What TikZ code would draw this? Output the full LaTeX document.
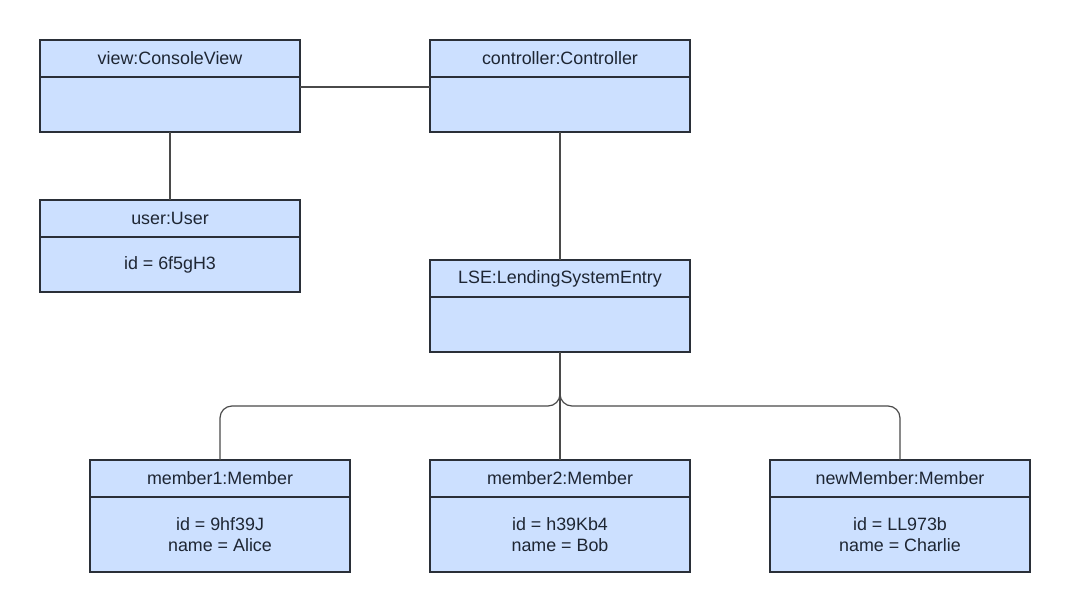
\documentclass[tikz,border=0pt]{standalone}
\usepackage{fontspec}
\setmainfont{Liberation Sans}
\usetikzlibrary{positioning, calc}
\definecolor{objfill}{HTML}{CCE0FF}
\definecolor{objline}{HTML}{2A2F38}
\definecolor{connline}{HTML}{4A4A4A}
\definecolor{objtext}{HTML}{1E2633}
\tikzset{
  every picture/.style={font=\fontsize{13.4}{15.75}\selectfont, x=0.75pt, y=-0.75pt},
  head/.style={draw=objline, fill=objfill, line width=1.5pt, text=objtext, minimum width=195pt, minimum height=27.75pt, inner sep=0pt, outer sep=0pt, anchor=north west},
  body/.style={draw=objline, fill=objfill, line width=1.5pt, text=objtext, align=center, minimum width=195pt, minimum height=#1, inner sep=0pt, outer sep=0pt},
  body/.default=41.25pt,
  conn/.style={draw=connline, line width=0.9pt},
}

\begin{document}
\begin{tikzpicture}
  \useasboundingbox (0,0) rectangle (1070,613);
  % top row
  \node[head] (view) at (40,40) {view:ConsoleView};
  \node[body, below=0pt of view] (viewb) {};
  \node[head] (ctrl) at (430,40) {controller:Controller};
  \node[body, below=0pt of ctrl] (ctrlb) {};
  % user and entry point
  \node[head] (user) at (40,200) {user:User};
  \node[body, below=0pt of user] (userb) {id = 6f5gH3};
  \node[head] (lse) at (430,260) {LSE:LendingSystemEntry};
  \node[body, below=0pt of lse] (lseb) {};
  % members
  \node[head] (m1) at (90,460) {member1:Member};
  \node[body=56.25pt, below=0pt of m1] (m1b) {id = 9hf39J\\name = Alice};
  \node[head] (m2) at (430,460) {member2:Member};
  \node[body=56.25pt, below=0pt of m2] (m2b) {id = h39Kb4\\name = Bob};
  \node[head] (m3) at (770,460) {newMember:Member};
  \node[body=56.25pt, below=0pt of m3] (m3b) {id = LL973b\\name = Charlie};
  % links
  \draw[conn] ($(viewb.north east)+(0,10)$) -- ($(ctrlb.north west)+(0,10)$);
  \draw[conn] (viewb.south) -- (user.north);
  \draw[conn] (ctrlb.south) -- (lse.north);
  \coordinate (split) at ($(lseb.south)+(0,54)$);
  \draw[conn, rounded corners=9pt] (lseb.south) -- (split) -| (m1.north);
  \draw[conn, rounded corners=9pt] (lseb.south) -- (split) -| (m3.north);
  \draw[conn] (lseb.south) -- (m2.north);
\end{tikzpicture}
\end{document}
